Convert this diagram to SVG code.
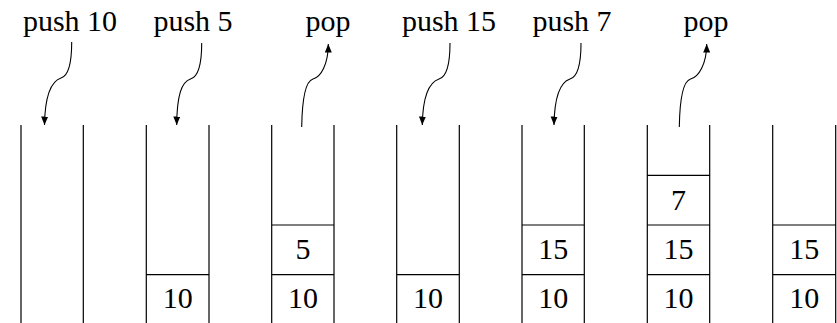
<svg xmlns="http://www.w3.org/2000/svg" width="837" height="323" viewBox="0 0 837 323">
<defs>
<style>
.ln{stroke:#000;stroke-width:1.2;fill:none}
.arr{stroke:#000;stroke-width:1.1;fill:none;marker-end:url(#ah)}
</style>
<marker id="ah" markerUnits="userSpaceOnUse" markerWidth="9" markerHeight="8" refX="8.5" refY="3.5" orient="auto">
<path d="M0,0 L8.5,3.5 L0,7 z" fill="#000"/>
</marker>
</defs>
<rect width="837" height="323" fill="#fff"/>
<g font-family="'Liberation Serif', 'Times New Roman', Times, serif" font-size="30" fill="#000" text-anchor="middle">
<g id="labels">
<text x="70" y="31">push 10</text>
<text x="193" y="31">push 5</text>
<text x="328" y="31">pop</text>
<text x="449" y="31">push 15</text>
<text x="572" y="31">push 7</text>
<text x="706" y="31">pop</text>
</g>
<g id="stack1">
<path class="ln" d="M21,125 V323 M83.3,125 V323"/>
</g>
<g id="stack2">
<path class="ln" d="M146.3,125 V323 M209,125 V323 M146.3,274.7 H209"/>
<text x="177.7" y="308.3">10</text>
</g>
<g id="stack3">
<path class="ln" d="M271.7,125 V323 M334,125 V323 M271.7,274.7 H334 M271.7,225 H334"/>
<text x="302.9" y="308.3">10</text>
<text x="302.9" y="259">5</text>
</g>
<g id="stack4">
<path class="ln" d="M396.7,125 V323 M459.3,125 V323 M396.7,274.7 H459.3"/>
<text x="428" y="308.3">10</text>
</g>
<g id="stack5">
<path class="ln" d="M522,125 V323 M584.3,125 V323 M522,274.7 H584.3 M522,225 H584.3"/>
<text x="553.2" y="308.3">10</text>
<text x="553.2" y="259">15</text>
</g>
<g id="stack6">
<path class="ln" d="M647.3,125 V323 M709.7,125 V323 M647.3,274.7 H709.7 M647.3,225 H709.7 M647.3,175.3 H709.7"/>
<text x="678.5" y="308.3">10</text>
<text x="678.5" y="259">15</text>
<text x="678.5" y="210">7</text>
</g>
<g id="stack7">
<path class="ln" d="M772.7,125 V323 M835.7,125 V323 M772.7,274.7 H835.7 M772.7,225 H835.7"/>
<text x="804.2" y="308.3">10</text>
<text x="804.2" y="259">15</text>
</g>
</g>
<g id="connectors">
<path class="arr" d="M71.7,42 C71.7,65 68,76 61,78 C52,81 45,95 44.5,125"/>
<path class="arr" d="M201.7,43 C201.7,66 198,77 190.5,79 C181.5,82 177,95 176.7,125"/>
<path class="arr" d="M301.7,127 C302.2,96 306,81 313,79 C321,77 328.3,64 328.3,44"/>
<path class="arr" d="M450,43 C450,66 446.3,77 439,79 C430,82 422.8,95 422.3,125"/>
<path class="arr" d="M581,43 C581,66 577.3,77 570,79 C561,82 554.5,95 554,125"/>
<path class="arr" d="M679.3,127 C679.8,96 683.6,81 690.6,79 C698.6,77 706.7,64 706.7,44"/>
</g>
</svg>
